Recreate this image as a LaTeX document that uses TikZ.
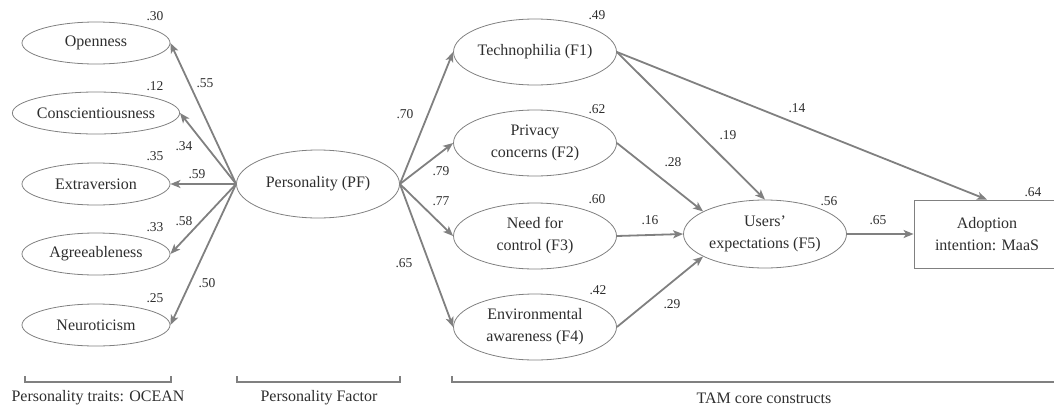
\documentclass[tikz,border=0pt]{standalone}
\usepackage{fontspec}
\setmainfont{Liberation Serif}
\usetikzlibrary{shapes}
\usetikzlibrary{arrows.meta}
\colorlet{lngray}{black!50}
\colorlet{txgray}{black!82}
\tikzset{lat/.style={
  ellipse,draw=lngray,line width=0.8pt,inner sep=0pt,
  minimum width=163pt,minimum height=66pt,align=center,
  font=\fontsize{16}{22}\selectfont,text=txgray
}}
\tikzset{trait/.style={lat,minimum width=148pt,minimum height=42pt}}
\tikzset{load/.style={
  draw=lngray,line width=1.8pt,
  -{Stealth[length=10pt,width=8pt,inset=2.5pt]}
}}
\tikzset{coef/.style={font=\fontsize{13.5}{16}\selectfont,text=txgray,inner sep=0pt}}
\tikzset{brk/.style={draw=lngray,line width=2.8pt}}

\begin{document}
\begin{tikzpicture}[x=1pt,y=-1pt]
    \useasboundingbox (0,0) rectangle (1054,407);
    % Traits
    \node[trait] (open)  at (96,43)  {Openness};
    \node[trait] (consc) at (96,113) {Conscientiousness};
    \node[trait] (extra) at (96,184) {Extraversion};
    \node[trait] (agree) at (96,254) {Agreeableness};
    \node[trait] (neuro) at (96,325) {Neuroticism};
    % Factors
    \node[lat,minimum height=68pt] (pf) at (318,184) {Personality (PF)};
    \node[lat] (f1) at (535,52)  {Technophilia (F1)};
    \node[lat] (f2) at (535,143) {Privacy\\concerns (F2)};
    \node[lat] (f3) at (535,236) {Need for\\control (F3)};
    \node[lat] (f4) at (535,327) {Environmental\\awareness (F4)};
    \node[lat,minimum height=68pt] (f5) at (765,234) {Users'\\expectations (F5)};
    \node[lat,rectangle,minimum width=146pt,minimum height=68pt]
      (adopt) at (987,234) {Adoption\\intention: MaaS};
    % Paths
    \foreach \t in {open,consc,extra,agree,neuro}
      \draw[load] (pf.west) -- (\t.east);
    \foreach \f in {f1,f2,f3,f4}
      \draw[load] (pf.east) -- (\f.west);
    \draw[load] (f1.east) -- (f5.north);
    \draw[load] (f1.east) -- (adopt.north);
    \draw[load] (f2.east) -- (f5.160);
    \draw[load] (f3.east) -- (f5.west);
    \draw[load] (f4.east) -- (f5.200);
    \draw[load] (f5.east) -- (adopt.west);
    % Residuals
    \node[coef] (r1) at (155,16)  {.30};
    \node[coef] (r2) at (155,86)  {.12};
    \node[coef] (r3) at (155,156) {.35};
    \node[coef] (r4) at (155,227) {.33};
    \node[coef] (r5) at (155,298) {.25};
    \node[coef] (r6) at (597,15)  {.49};
    \node[coef] (r7) at (597,109) {.62};
    \node[coef] (r8) at (597,199) {.60};
    \node[coef] (r9) at (598,290) {.42};
    \node[coef] (r10) at (829,201) {.56};
    \node[coef] (r11) at (1033,192) {.64};
    % Coefficients
    \node[coef] (c1) at (205,83)  {.55};
    \node[coef] (c2) at (184,146) {.34};
    \node[coef] (c3) at (197,174) {.59};
    \node[coef] (c4) at (184,221) {.58};
    \node[coef] (c5) at (207,283) {.50};
    \node[coef] (c6) at (405,114) {.70};
    \node[coef] (c7) at (441,171) {.79};
    \node[coef] (c8) at (441,201) {.77};
    \node[coef] (c9) at (404,263) {.65};
    \node[coef] (c10) at (728,135) {.19};
    \node[coef] (c11) at (797,108) {.14};
    \node[coef] (c12) at (673,162) {.28};
    \node[coef] (c13) at (650,220) {.16};
    \node[coef] (c14) at (672,304) {.29};
    \node[coef] (c15) at (878,220) {.65};
    % Brackets
    \draw[brk] (25,376) -- (25,382) -- (171,382) -- (171,376);
    \draw[brk] (237,376) -- (237,382) -- (400,382) -- (400,376);
    \draw[brk] (452,376) -- (452,382) -- (1060,382);
    \node[coef,font=\fontsize{16}{19}\selectfont] (g1) at (98,398) {Personality traits: OCEAN};
    \node[coef,font=\fontsize{16}{19}\selectfont] (g2) at (319,398) {Personality Factor};
    \node[coef,font=\fontsize{16}{19}\selectfont] (g3) at (764,398) {TAM core constructs};
  \end{tikzpicture}
\end{document}
